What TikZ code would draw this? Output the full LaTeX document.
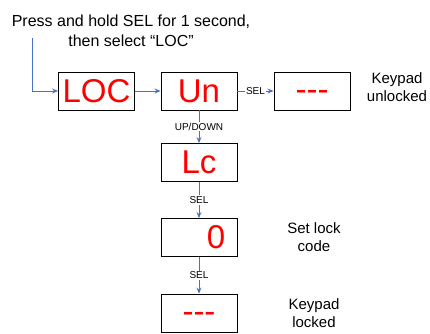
\documentclass[tikz,border=0pt]{standalone}
\usepackage{fontspec}
\setmainfont{Liberation Sans}
\usetikzlibrary{arrows.meta}
\definecolor{arrowblue}{RGB}{68,114,196}
\begin{document}
\begin{tikzpicture}[x=1pt,y=-1pt,
  box/.style={draw=black, line width=0.9pt, minimum width=76pt, minimum height=38pt, inner sep=0pt},
  big/.style={text=red, font=\fontsize{33}{36}\selectfont},
  note/.style={align=center, font=\fontsize{15}{18}\selectfont},
  conn/.style={draw=arrowblue, line width=0.9pt, -{Stealth[length=6pt,width=5pt]}},
  lab/.style={fill=white, inner sep=1pt, font=\fontsize{10}{12}\selectfont}]
\useasboundingbox (0,0) rectangle (430,333);
\node[note, font=\fontsize{16}{20}\selectfont] (title) at (131,31) {Press and hold SEL for 1 second,\\then select “LOC”};
\coordinate (start) at (32,38);
\node[box, big] (loc) at (96.5,91) {LOC};
\node[box, big] (un) at (199,91) {Un};
\node[box] (unl) at (312,91) {};
\node[big] (unltxt) at (312,95.5) {-{}-{}-};
\node[box, big] (lc) at (199,162.5) {Lc};
\node[box] (zero) at (199,237.5) {};
\node[big] (zerotxt) at (216,237.5) {0};
\node[box] (lck) at (199,313) {};
\node[big] (lcktxt) at (199,317.5) {-{}-{}-};
\node[note] (kunl) at (397,87) {Keypad\\unlocked};
\node[note] (slc) at (314,237) {Set lock\\code};
\node[note] (kl) at (314,313) {Keypad\\locked};
\draw[conn] (start) |- (loc.west);
\draw[conn] (loc.east) -- (un.west);
\draw[conn] (un.east) -- node[lab] {SEL} (unl.west);
\draw[conn] (un.south) -- node[lab] {UP/DOWN} (lc.north);
\draw[conn] (lc.south) -- node[lab] {SEL} (zero.north);
\draw[conn] (zero.south) -- node[lab] {SEL} (lck.north);
\end{tikzpicture}
\end{document}
